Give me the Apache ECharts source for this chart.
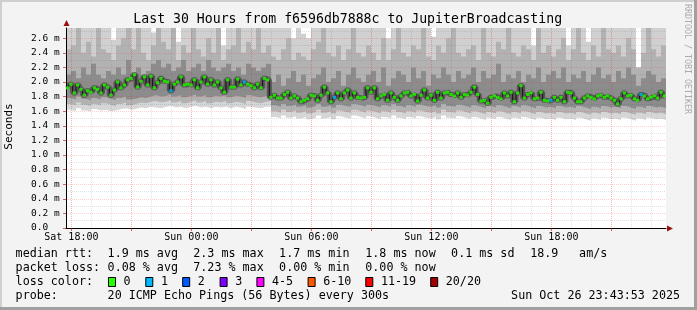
<!DOCTYPE html>
<html><head><meta charset="utf-8">
<script src="https://cdn.jsdelivr.net/npm/echarts@6.0.0/dist/echarts.min.js"></script>
<style>html,body{margin:0;padding:0;background:#f3f3f3}#c{width:697px;height:310px}</style>
</head><body><div id="c"></div>
<script>
// ---------------- data ----------------
const titleText = 'Last 30 Hours from f6596db7888c to JupiterBroadcasting';
const yAxisName = 'Seconds';
const creditText = 'RRDTOOL / TOBI OETIKER';
const yLabelTicks = [0,0.2,0.4,0.6,0.8,1.0,1.2,1.4,1.6,1.8,2.0,2.2,2.4,2.6];
const yMinorTicks = [0.1,0.3,0.5,0.7,0.9,1.1,1.3,1.5,1.7,1.9,2.1,2.3,2.5,2.7];
const xLabelHours = [0,6,12,18,24];
const xLabelText = ['Sat 18:00','Sun 00:00','Sun 06:00','Sun 12:00','Sun 18:00'];
const xMajorHours = [0,3,6,9,12,15,18,21,24,27];
const xMinorHours = [0,1,2,3,4,5,6,7,8,9,10,11,12,13,14,15,16,17,18,19,20,21,22,23,24,25,26,27,28,29];
const startHour = -967/3600;      // Sat 17:43:53 relative to Sat 18:00
const spanHours = 30;
const smokeStepHours = 0.25;
const medianStepHours = 1/6;

// median RTT (ms) per 10 minutes
const median = [
1.92,1.97,1.85,1.96,1.90,1.82,1.88,1.86,1.92,1.90,1.85,1.96,1.93,1.82,1.89,2.00,1.92,1.96,2.03,2.05,2.10,1.93,2.01,2.07,1.96,2.08,1.92,1.99,2.05,2.01,
2.00,1.88,1.97,2.00,2.07,1.96,1.97,1.96,2.03,1.92,2.00,2.07,1.97,2.03,1.96,2.00,1.92,1.86,2.03,1.93,1.93,2.04,1.96,2.00,1.97,1.95,1.92,1.97,1.92,2.05,
2.03,1.79,1.82,1.78,1.78,1.83,1.86,1.78,1.81,1.78,1.73,1.75,1.77,1.82,1.81,1.75,1.82,1.93,1.85,1.73,1.79,1.85,1.77,1.85,1.89,1.78,1.85,1.79,1.78,1.79,
1.92,1.86,1.92,1.77,1.81,1.83,1.75,1.85,1.79,1.75,1.81,1.85,1.86,1.81,1.83,1.74,1.82,1.89,1.78,1.82,1.75,1.86,1.78,1.85,1.86,1.83,1.81,1.85,1.79,1.83,
1.82,1.86,1.93,1.83,1.74,1.75,1.71,1.79,1.81,1.79,1.77,1.85,1.81,1.86,1.73,1.85,1.95,1.78,1.83,1.85,1.77,1.78,1.86,1.75,1.74,1.75,1.79,1.75,1.79,1.73,
1.86,1.85,1.78,1.73,1.73,1.78,1.81,1.79,1.77,1.81,1.82,1.79,1.81,1.78,1.75,1.70,1.77,1.85,1.81,1.82,1.77,1.75,1.83,1.81,1.77,1.79,1.81,1.78,1.86,1.81
];
// lost pings per 10 minutes
const loss = [
0,0,0,0,0,0,0,0,0,0,0,0,0,0,0,0,0,0,0,0,0,0,0,0,0,0,0,0,0,0,
0,1,0,0,0,0,0,0,0,0,0,0,0,0,0,0,0,0,0,0,0,0,0,1,0,0,0,0,0,0,
0,0,0,0,0,0,0,0,0,0,0,0,0,0,0,0,0,0,0,0,1,0,0,0,0,0,0,0,0,0,
0,0,0,0,0,0,0,0,0,0,0,0,0,0,0,0,0,0,0,0,0,0,0,0,0,0,0,0,0,0,
0,0,0,0,0,0,0,0,0,0,0,0,0,0,0,0,0,0,0,0,0,0,0,0,0,1,0,0,0,0,
0,0,0,0,0,0,0,0,0,0,0,0,0,0,0,0,0,0,0,0,0,0,1,0,0,0,0,0,0,0
];
// smoke (spread of the 20 pings) per 15 minutes, ms
const smokeMax = [
2.8,2.8,2.8,2.8,2.8,2.8,2.62,2.8,2.8,2.58,
2.8,2.8,2.8,2.8,2.8,2.8,2.8,2.68,2.8,2.8,
2.8,2.8,2.55,2.8,2.8,2.8,2.8,2.8,2.8,2.8,
2.8,2.5,2.8,2.8,2.8,2.8,2.8,2.8,2.8,2.8,
2.8,2.8,2.8,2.8,2.8,2.6,2.8,2.66,2.6,2.8,
2.8,2.8,2.8,2.8,2.8,2.8,2.8,2.8,2.8,2.8,
2.8,2.8,2.8,2.8,2.6,2.8,2.8,2.8,2.8,2.8,
2.8,2.8,2.8,2.62,2.8,2.8,2.8,2.8,2.8,2.8,
2.8,2.8,2.8,2.8,2.8,2.8,2.8,2.8,2.8,2.8,
2.8,2.8,2.8,2.5,2.8,2.8,2.8,2.8,2.8,2.8,
2.5,2.8,2.8,2.8,2.55,2.8,2.8,2.8,2.8,2.8,
2.8,2.8,2.8,2.8,2.2,2.8,2.8,2.8,2.8,2.8
];
const smokeHi2 = [
2.45,2.5,2.8,2.4,2.55,2.35,2.8,2.45,2.4,2.3,
2.5,2.6,2.8,2.45,2.8,2.4,2.3,2.5,2.8,2.55,
2.45,2.8,2.3,2.5,2.4,2.8,2.45,2.35,2.6,2.4,
2.8,2.3,2.45,2.5,2.8,2.4,2.55,2.45,2.8,2.4,
2.5,2.35,2.3,2.45,2.6,2.3,2.4,2.35,2.3,2.45,
2.55,2.8,2.4,2.35,2.5,2.3,2.45,2.8,2.4,2.35,
2.5,2.4,2.3,2.6,2.3,2.45,2.8,2.4,2.35,2.5,
2.45,2.8,2.35,2.3,2.5,2.4,2.6,2.8,2.4,2.35,
2.45,2.5,2.3,2.8,2.4,2.35,2.55,2.45,2.8,2.4,
2.35,2.5,2.45,2.3,2.8,2.4,2.5,2.35,2.45,2.6,
2.3,2.45,2.8,2.4,2.3,2.5,2.35,2.8,2.45,2.4,
2.5,2.35,2.6,2.45,2.2,2.4,2.8,2.45,2.35,2.5
];
const smokeHi1 = [
2.1,2.15,2.05,2.2,2.1,2.25,2.1,2.05,2.15,2.1,
2.2,2.1,2.3,2.05,2.2,2.1,2.15,2.25,2.3,2.2,
2.25,2.15,2.2,2.3,2.15,2.2,2.25,2.15,2.3,2.2,
2.15,2.2,2.25,2.15,2.2,2.1,2.25,2.2,2.15,2.2,
2.25,2.0,2.1,1.95,2.05,2.15,2.0,2.1,1.95,2.05,
2.1,2.2,2.0,2.05,2.15,1.95,2.1,2.2,2.05,2.0,
2.1,2.15,2.0,2.2,1.95,2.05,2.15,2.1,2.0,2.2,
2.05,2.15,1.95,2.1,2.05,2.2,2.1,2.0,2.15,2.05,
2.1,2.2,2.0,2.15,2.05,2.1,2.25,2.0,2.1,2.05,
2.15,2.0,2.1,2.05,2.2,2.0,2.1,2.15,2.05,2.2,
2.0,2.1,2.05,2.15,2.0,2.1,2.2,2.05,2.1,2.0,
2.15,2.05,2.2,2.1,1.95,2.05,2.15,2.1,2.0,2.05
];
const smokeLo1 = [
1.78,1.76,1.8,1.77,1.75,1.78,1.76,1.79,1.77,1.75,
1.78,1.8,1.76,1.77,1.79,1.78,1.8,1.82,1.8,1.81,
1.83,1.8,1.82,1.79,1.81,1.83,1.8,1.82,1.79,1.81,
1.8,1.82,1.79,1.81,1.8,1.78,1.82,1.8,1.79,1.81,
1.82,1.68,1.66,1.7,1.67,1.69,1.66,1.68,1.65,1.67,
1.7,1.66,1.68,1.65,1.69,1.67,1.66,1.7,1.68,1.66,
1.69,1.67,1.65,1.68,1.66,1.7,1.67,1.65,1.68,1.66,
1.69,1.67,1.66,1.68,1.65,1.7,1.67,1.66,1.69,1.67,
1.65,1.68,1.66,1.64,1.67,1.65,1.68,1.66,1.64,1.67,
1.65,1.68,1.66,1.64,1.67,1.65,1.66,1.64,1.67,1.65,
1.66,1.64,1.67,1.65,1.63,1.66,1.64,1.67,1.65,1.66,
1.64,1.67,1.65,1.63,1.66,1.64,1.67,1.65,1.66,1.64
];
const smokeLo2 = [
1.7,1.68,1.72,1.69,1.67,1.7,1.68,1.71,1.69,1.67,
1.7,1.72,1.68,1.7,1.72,1.71,1.73,1.74,1.72,1.73,
1.75,1.72,1.74,1.71,1.73,1.75,1.72,1.74,1.71,1.73,
1.72,1.74,1.71,1.73,1.72,1.7,1.74,1.72,1.71,1.73,
1.74,1.6,1.58,1.62,1.59,1.61,1.58,1.6,1.57,1.59,
1.62,1.58,1.6,1.57,1.61,1.59,1.58,1.62,1.6,1.58,
1.61,1.59,1.57,1.6,1.58,1.62,1.59,1.57,1.6,1.58,
1.61,1.59,1.58,1.6,1.57,1.62,1.59,1.58,1.61,1.59,
1.57,1.6,1.58,1.56,1.59,1.57,1.6,1.58,1.56,1.59,
1.57,1.6,1.58,1.56,1.59,1.57,1.58,1.56,1.59,1.57,
1.58,1.56,1.59,1.57,1.55,1.58,1.56,1.59,1.57,1.58,
1.56,1.59,1.57,1.55,1.58,1.56,1.59,1.57,1.58,1.56
];
const smokeMin = [
1.62,1.6,1.64,1.61,1.6,1.63,1.61,1.62,1.6,1.61,
1.63,1.64,1.62,1.63,1.65,1.64,1.66,1.65,1.64,1.66,
1.67,1.65,1.66,1.64,1.66,1.67,1.65,1.66,1.64,1.66,
1.65,1.66,1.64,1.66,1.65,1.63,1.66,1.65,1.64,1.66,
1.66,1.52,1.5,1.54,1.51,1.53,1.5,1.52,1.49,1.51,
1.54,1.5,1.52,1.49,1.53,1.51,1.5,1.54,1.52,1.5,
1.53,1.51,1.49,1.52,1.5,1.54,1.51,1.49,1.52,1.5,
1.53,1.51,1.5,1.52,1.49,1.54,1.51,1.5,1.53,1.51,
1.49,1.52,1.5,1.48,1.51,1.49,1.52,1.5,1.48,1.51,
1.49,1.52,1.5,1.48,1.51,1.49,1.5,1.48,1.51,1.49,
1.5,1.48,1.51,1.49,1.47,1.5,1.48,1.51,1.49,1.5,
1.48,1.51,1.49,1.47,1.5,1.48,1.51,1.49,1.5,1.48
];
// legend texts
const rttLabel = 'median rtt:';
const rttStats = ['1.9 ms avg','2.3 ms max','1.7 ms min','1.8 ms now','0.1 ms sd','18.9','am/s'];
const lossLabel = 'packet loss:';
const lossStats = ['0.08 % avg','7.23 % max','0.00 % min','0.00 % now'];
const lossColorLabel = 'loss color:';
const lossLegendLabels = ['0','1','2','3','4-5','6-10','11-19','20/20'];
const lossLegendColors = ['#26ff00','#00b8ff','#0059ff','#7e00ff','#ff00ff','#ff5500','#ff0000','#a10000'];
const probeLabel = 'probe:';
const probeText = '20 ICMP Echo Pings (56 Bytes) every 300s';
const dateText = 'Sun Oct 26 23:43:53 2025';

// ---------------- layout / style ----------------
const MONO = '"DejaVu Sans Mono", monospace';
const LEG_FONT = '11.7px ' + MONO;
const statX = [107.6,193.3,279.1,365.3,451.1,530.2,579.1];
const rowY = [254.3,268.3,282.3,296.2];
const swatchX = [108,145.3,182.2,219.6,256.4,307.6,365.3,430.2];
const smokeColors = ['#d0d0d0','#b2b2b2','#8c8c8c','#b2b2b2','#d6d6d6','#ffffff'];

function lossColor(n){
  if (n <= 0) return lossLegendColors[0];
  if (n === 1) return lossLegendColors[1];
  if (n === 2) return lossLegendColors[2];
  if (n === 3) return lossLegendColors[3];
  if (n <= 5) return lossLegendColors[4];
  if (n <= 10) return lossLegendColors[5];
  if (n <= 19) return lossLegendColors[6];
  return lossLegendColors[7];
}
function smokeData(arr){
  const d = arr.map((v,i)=>[startHour + i*smokeStepHours, v]);
  d.push([startHour + arr.length*smokeStepHours, arr[arr.length-1]]);
  return d;
}
const medianPts = median.map((v,i)=>[startHour + (i+0.5)*medianStepHours, v]);

const series = [];
[smokeMax,smokeHi2,smokeHi1,smokeLo1,smokeLo2,smokeMin].forEach((arr,k)=>{
  series.push({type:'line', data:smokeData(arr), step:'end', symbol:'none', showSymbol:false,
    color:smokeColors[k], itemStyle:{color:smokeColors[k]},
    lineStyle:{width:0,opacity:0}, areaStyle:{color:smokeColors[k],opacity:1},
    emphasis:{disabled:true}, silent:true, animation:false, z:2});
});
series.push({type:'line', data:medianPts, step:'middle', symbol:'none', showSymbol:false,
  color:'#555555', itemStyle:{color:'#555555'},
  lineStyle:{width:5,color:'#555555'}, emphasis:{disabled:true}, silent:true, animation:false, z:2});
series.push({type:'line', data:medianPts, step:'middle', symbol:'none', showSymbol:false,
  color:'#111111', itemStyle:{color:'#111111'},
  lineStyle:{width:1,color:'#111111'}, emphasis:{disabled:true}, silent:true, animation:false, z:6});
series.push({type:'scatter', symbol:'rect', symbolSize:[3.5,3], silent:true, animation:false, z:7,
  emphasis:{disabled:true},
  data: medianPts.map((p,i)=>({value:p, itemStyle:{color:lossColor(loss[i]), borderWidth:0}}))});

// graphics
const g = [];
g.push({type:'rect', shape:{x:0,y:0,width:697,height:2}, style:{fill:'#cfcfcf'}, silent:true});
g.push({type:'rect', shape:{x:0,y:0,width:2,height:310}, style:{fill:'#cfcfcf'}, silent:true});
g.push({type:'rect', shape:{x:694,y:0,width:3,height:310}, style:{fill:'#a0a0a0'}, silent:true});
g.push({type:'rect', shape:{x:0,y:307,width:697,height:3}, style:{fill:'#a0a0a0'}, silent:true});
g.push({type:'text', x:347.7, y:19.3, style:{text:titleText, font:'13.2px '+MONO, fill:'#000', align:'center', verticalAlign:'middle'}, silent:true});
g.push({type:'text', x:9.5, y:126.5, rotation:Math.PI/2, style:{text:yAxisName, font:'11px '+MONO, fill:'#000', align:'center', verticalAlign:'middle'}, silent:true});
g.push({type:'text', x:687.5, y:59, rotation:-Math.PI/2, style:{text:creditText, font:'8.3px '+MONO, fill:'#ababab', align:'center', verticalAlign:'middle'}, silent:true});
g.push({type:'polygon', shape:{points:[[63.5,26],[69.5,26],[66.5,20]]}, style:{fill:'#9a1010'}, silent:true, z:20});
g.push({type:'polygon', shape:{points:[[667,225.5],[667,231.5],[673,228.5]]}, style:{fill:'#9a1010'}, silent:true, z:20});
function txt(x,y,t,align){ g.push({type:'text', x:x, y:y, style:{text:t, font:LEG_FONT, fill:'#000', align:align||'left', verticalAlign:'middle'}, silent:true}); }
txt(15.6,rowY[0],rttLabel);
rttStats.forEach((t,i)=>txt(statX[i],rowY[0],t));
txt(15.6,rowY[1],lossLabel);
lossStats.forEach((t,i)=>txt(statX[i],rowY[1],t));
txt(15.6,rowY[2],lossColorLabel);
lossLegendLabels.forEach((t,i)=>{
  g.push({type:'rect', shape:{x:swatchX[i]+0.5,y:277.5,width:7,height:9}, style:{fill:lossLegendColors[i],stroke:'#000',lineWidth:1}, silent:true});
  txt(swatchX[i]+15.6,rowY[2],t);
});
txt(15.6,rowY[3],probeLabel);
txt(107.6,rowY[3],probeText);
txt(680,rowY[3],dateText,'right');

const majorGrid = {show:true, lineStyle:{color:'rgba(255,40,40,0.22)', type:[1,1], width:1}};
const minorGrid = {show:true, lineStyle:{color:'rgba(90,90,90,0.17)', type:[1,1], width:1}};

const option = {
  backgroundColor:'#f3f3f3',
  animation:false,
  grid:{left:66, right:31, top:28, bottom:82, show:true, backgroundColor:'#ffffff', borderWidth:0},
  xAxis:[
    {type:'value', min:startHour, max:startHour+spanHours, z:4,
     axisLine:{show:true, onZero:false, lineStyle:{color:'#000',width:1}},
     axisTick:{show:true, customValues:xMajorHours, length:3, lineStyle:{color:'rgba(200,0,0,0.6)'}},
     axisLabel:{customValues:xLabelHours, margin:4, fontFamily:MONO, fontSize:10, color:'#000',
       formatter:(v)=>{const k=xLabelHours.indexOf(Math.round(v)); return k>=0?xLabelText[k]:'';}},
     splitLine:majorGrid},
    {type:'value', min:startHour, max:startHour+spanHours, z:3, position:'bottom',
     axisLine:{show:false, onZero:false}, axisTick:{show:false, customValues:xMinorHours}, axisLabel:{show:false},
     splitLine:minorGrid}
  ],
  yAxis:[
    {type:'value', min:0, max:2.74, z:4,
     axisLine:{show:true, onZero:false, lineStyle:{color:'#000',width:1}},
     axisTick:{show:true, customValues:yLabelTicks, length:3, lineStyle:{color:'rgba(200,0,0,0.6)'}},
     axisLabel:{customValues:yLabelTicks, align:'left', margin:35, fontFamily:MONO, fontSize:9.5, color:'#000',
       formatter:(v)=> v===0 ? '0.0' : v.toFixed(1)+' m'},
     splitLine:majorGrid},
    {type:'value', min:0, max:2.74, z:3, position:'left',
     axisLine:{show:false, onZero:false}, axisTick:{show:false, customValues:yMinorTicks}, axisLabel:{show:false},
     splitLine:minorGrid}
  ],
  series: series,
  graphic: g
};
const chart = echarts.init(document.getElementById('c'), null, {renderer:'canvas'});
chart.setOption(option);
</script>
</body></html>
